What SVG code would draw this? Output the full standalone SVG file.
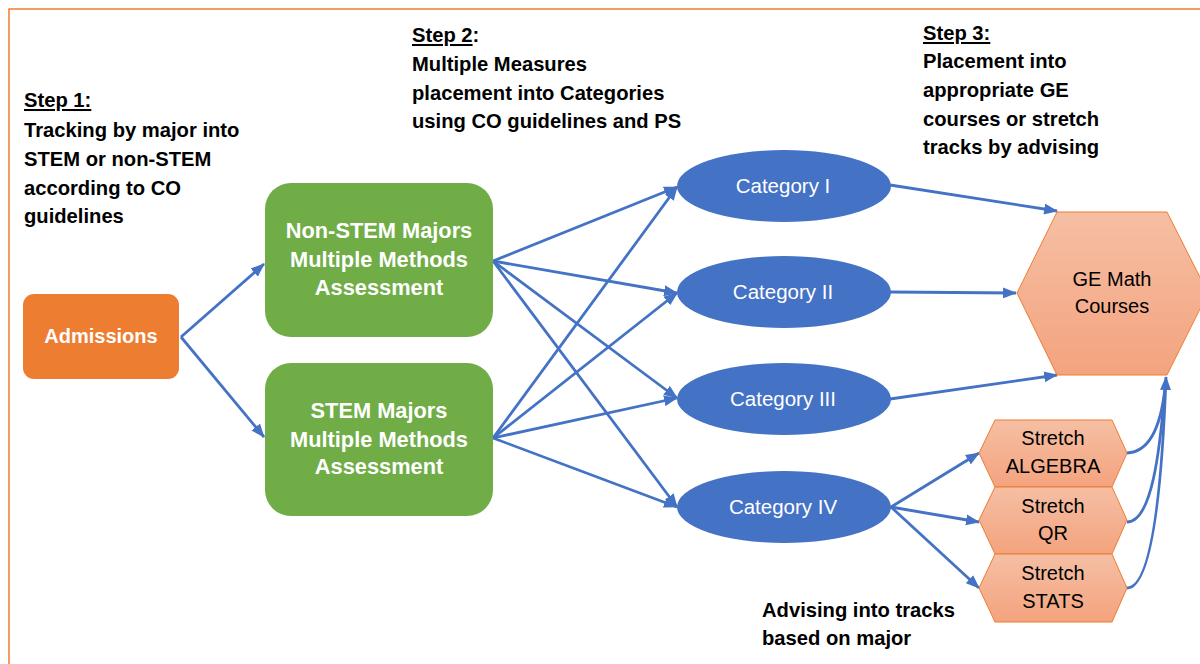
<svg xmlns="http://www.w3.org/2000/svg" width="1200" height="664" viewBox="0 0 1200 664">
<style>
.step{font-family:"Liberation Sans",Arial,sans-serif;font-weight:bold;font-size:20.2px;fill:#000}
.wb{font-family:"Liberation Sans",Arial,sans-serif;font-weight:bold;fill:#fff;text-anchor:middle}
.cat{font-family:"Liberation Sans",Arial,sans-serif;font-size:20.5px;fill:#fff;text-anchor:middle}
.hx{font-family:"Liberation Sans",Arial,sans-serif;font-size:20px;fill:#000;text-anchor:middle}
.hex{fill:url(#peach);stroke:#ED7D31;stroke-width:1}
.ell{fill:#4472C4}
.green{fill:#70AD47}
.conn{fill:none;stroke:#4472C4;stroke-width:2.8}
.u{text-decoration:underline}
</style>
<defs>
<linearGradient id="peach" x1="0" y1="0" x2="0" y2="1">
<stop offset="0" stop-color="#F5BFA4"/>
<stop offset="1" stop-color="#F4A37E"/>
</linearGradient>
<marker id="ah" markerUnits="userSpaceOnUse" markerWidth="14" markerHeight="11" refX="13" refY="5.5" orient="auto">
<path d="M0,0 L14,5.5 L0,11 z" fill="#4472C4"/>
</marker>
</defs>
<rect x="9" y="9" width="1300" height="700" fill="#fff" stroke="#ED7D31" stroke-width="1.5"/>

<g id="step1">
<text class="step" x="24" y="107"><tspan class="u">Step 1:</tspan></text>
<text class="step" x="24" y="137">Tracking by major into</text>
<text class="step" x="24" y="166">STEM or non-STEM</text>
<text class="step" x="24" y="195">according to CO</text>
<text class="step" x="24" y="223">guidelines</text>
</g>
<g id="step2">
<text class="step" x="412" y="42"><tspan class="u">Step 2</tspan>:</text>
<text class="step" x="412" y="71">Multiple Measures</text>
<text class="step" x="412" y="100">placement into Categories</text>
<text class="step" x="412" y="128">using CO guidelines and PS</text>
</g>
<g id="step3">
<text class="step" x="923" y="40"><tspan class="u">Step 3:</tspan></text>
<text class="step" x="923" y="68">Placement into</text>
<text class="step" x="923" y="97">appropriate GE</text>
<text class="step" x="923" y="126">courses or stretch</text>
<text class="step" x="923" y="154">tracks by advising</text>
</g>
<g id="advising-note">
<text class="step" x="762" y="617">Advising into tracks</text>
<text class="step" x="762" y="645">based on major</text>
</g>

<g id="connectors">
<line class="conn" x1="181" y1="337" x2="264" y2="264" marker-end="url(#ah)"/>
<line class="conn" x1="181" y1="337" x2="264" y2="437" marker-end="url(#ah)"/>
<line class="conn" x1="493" y1="261" x2="677" y2="187" marker-end="url(#ah)"/>
<line class="conn" x1="493" y1="261" x2="677" y2="293" marker-end="url(#ah)"/>
<line class="conn" x1="493" y1="261" x2="677" y2="398" marker-end="url(#ah)"/>
<line class="conn" x1="493" y1="261" x2="677" y2="507" marker-end="url(#ah)"/>
<line class="conn" x1="493" y1="438" x2="677" y2="187" marker-end="url(#ah)"/>
<line class="conn" x1="493" y1="438" x2="677" y2="293" marker-end="url(#ah)"/>
<line class="conn" x1="493" y1="438" x2="677" y2="398" marker-end="url(#ah)"/>
<line class="conn" x1="493" y1="438" x2="677" y2="507" marker-end="url(#ah)"/>
<line class="conn" x1="890" y1="185" x2="1057" y2="211" marker-end="url(#ah)"/>
<line class="conn" x1="890" y1="292" x2="1016" y2="293" marker-end="url(#ah)"/>
<line class="conn" x1="890" y1="399" x2="1057" y2="375" marker-end="url(#ah)"/>
<line class="conn" x1="891" y1="507" x2="979" y2="453" marker-end="url(#ah)"/>
<line class="conn" x1="891" y1="507" x2="979" y2="522" marker-end="url(#ah)"/>
<line class="conn" x1="891" y1="507" x2="979" y2="588" marker-end="url(#ah)"/>
<path class="conn" d="M1127,453 C1150,452 1161,425 1165,388"/>
<path class="conn" d="M1127,522 C1152,522 1160,450 1165,388"/>
<path class="conn" d="M1127,588 C1155,588 1163,460 1166,377" marker-end="url(#ah)"/>
</g>

<g id="admissions">
<rect x="23" y="294" width="156" height="85" rx="11" fill="#ED7D31"/>
<text class="wb" x="101" y="343" font-size="20">Admissions</text>
</g>
<g id="non-stem">
<rect class="green" x="265" y="183" width="228" height="154" rx="26"/>
<text class="wb" x="379" y="238" font-size="21.8">Non-STEM Majors</text>
<text class="wb" x="379" y="267" font-size="21.8">Multiple Methods</text>
<text class="wb" x="379" y="295" font-size="21.8">Assessment</text>
</g>
<g id="stem">
<rect class="green" x="265" y="363" width="228" height="153" rx="26"/>
<text class="wb" x="379" y="418" font-size="21.8">STEM Majors</text>
<text class="wb" x="379" y="447" font-size="21.8">Multiple Methods</text>
<text class="wb" x="379" y="474" font-size="21.8">Assessment</text>
</g>
<g id="cat1">
<ellipse class="ell" cx="784" cy="186" rx="107" ry="36"/>
<text class="cat" x="783" y="193">Category I</text>
</g>
<g id="cat2">
<ellipse class="ell" cx="784" cy="292" rx="107" ry="36"/>
<text class="cat" x="783" y="299">Category II</text>
</g>
<g id="cat3">
<ellipse class="ell" cx="784" cy="399" rx="107" ry="36"/>
<text class="cat" x="783" y="406">Category III</text>
</g>
<g id="cat4">
<ellipse class="ell" cx="784" cy="507" rx="107" ry="36"/>
<text class="cat" x="783" y="514">Category IV</text>
</g>
<g id="ge-math">
<polygon class="hex" points="1017,293 1057,212 1167,212 1208,293 1167,375 1057,375"/>
<text class="hx" x="1112" y="286">GE Math</text>
<text class="hx" x="1112" y="313">Courses</text>
</g>
<g id="stretch-algebra">
<polygon class="hex" points="979,453 995,420 1112,420 1127,453 1112,487 995,487"/>
<text class="hx" x="1053" y="445">Stretch</text>
<text class="hx" x="1053" y="473">ALGEBRA</text>
</g>
<g id="stretch-qr">
<polygon class="hex" points="979,520 995,487 1112,487 1127,520 1112,554 995,554"/>
<text class="hx" x="1053" y="513">Stretch</text>
<text class="hx" x="1053" y="540">QR</text>
</g>
<g id="stretch-stats">
<polygon class="hex" points="979,588 995,554 1112,554 1127,588 1112,622 995,622"/>
<text class="hx" x="1053" y="580">Stretch</text>
<text class="hx" x="1053" y="608">STATS</text>
</g>
</svg>
